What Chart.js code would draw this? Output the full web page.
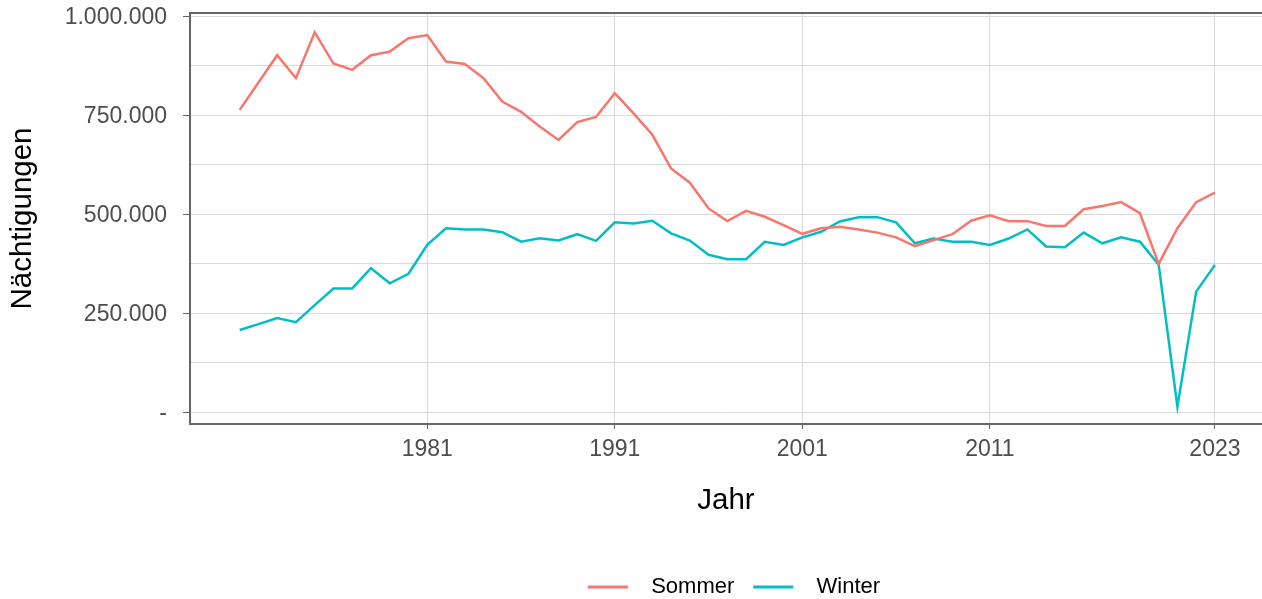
<!DOCTYPE html>
<html>
<head>
<meta charset="utf-8">
<script src="https://cdn.jsdelivr.net/npm/chart.js@4"></script>
<style>
  html, body { margin: 0; padding: 0; overflow: hidden; background: #fff; }
  #wrap { position: relative; width: 1262px; height: 608px; }
</style>
</head>
<body>
<div id="wrap"><canvas id="chart"></canvas></div>
<script>
const years = [1971, 1972, 1973, 1974, 1975, 1976, 1977, 1978, 1979, 1980,
  1981, 1982, 1983, 1984, 1985, 1986, 1987, 1988, 1989, 1990,
  1991, 1992, 1993, 1994, 1995, 1996, 1997, 1998, 1999, 2000,
  2001, 2002, 2003, 2004, 2005, 2006, 2007, 2008, 2009, 2010,
  2011, 2012, 2013, 2014, 2015, 2016, 2017, 2018, 2019, 2020,
  2021, 2022, 2023];

const sommer = [763000, 832000, 901000, 843000, 959000, 880000, 864000, 901000, 910000, 944000,
  952000, 885000, 879000, 843000, 784000, 758000, 721000, 687000, 732000, 745000,
  805000, 754000, 700000, 615000, 579000, 514000, 482000, 508000, 493000, 472000,
  450000, 464000, 468000, 461000, 453000, 441000, 419000, 434000, 449000, 483000,
  497000, 482000, 482000, 470000, 470000, 512000, 520000, 530000, 502000, 374000,
  464000, 530000, 554000];

const winter = [207000, 222000, 237000, 227000, 270000, 312000, 312000, 363000, 325000, 349000,
  422000, 464000, 461000, 461000, 454000, 430000, 439000, 433000, 449000, 432000,
  479000, 476000, 483000, 451000, 433000, 397000, 386000, 386000, 430000, 422000,
  441000, 455000, 481000, 492000, 492000, 479000, 426000, 438000, 430000, 430000,
  422000, 438000, 461000, 418000, 416000, 453000, 426000, 441000, 430000, 372000,
  13500, 304000, 371000];

const xTicks = [1981, 1991, 2001, 2011, 2023];
const yTicks = [0, 250000, 500000, 750000, 1000000];
const yLabels = ['-', '250.000', '500.000', '750.000', '1.000.000'];
const yMinor = [125000, 375000, 625000, 875000];

const FONT = "'Liberation Sans', Arial, sans-serif";
const gridColor = '#dadada';
const axisColor = '#666666';
const tickText = '#4d4d4d';

const toPoints = (vals) => vals.map((v, i) => ({ x: years[i], y: v }));

// ggplot style top frame line
const topFrame = {
  id: 'topFrame',
  afterDraw(chart) {
    const { ctx, chartArea } = chart;
    ctx.save();
    ctx.strokeStyle = axisColor;
    ctx.lineWidth = 2;
    ctx.beginPath();
    ctx.moveTo(chartArea.left - 1, chartArea.top);
    ctx.lineTo(chartArea.right, chartArea.top);
    ctx.stroke();
    ctx.restore();
  }
};

// legend sits a bit right of the panel centre in the original
const legendShift = {
  id: 'legendShift',
  afterLayout(chart) {
    chart.legend.left += 8;
    chart.legend.right += 8;
  }
};

new Chart(document.getElementById('chart'), {
  type: 'line',
  data: {
    datasets: [
      {
        label: 'Sommer',
        data: toPoints(sommer),
        borderColor: '#F8766D',
        backgroundColor: '#F8766D',
        borderWidth: 2.5,
        pointRadius: 0,
        tension: 0,
      },
      {
        label: 'Winter',
        data: toPoints(winter),
        borderColor: '#00BFC4',
        backgroundColor: '#00BFC4',
        borderWidth: 2.5,
        pointRadius: 0,
        tension: 0,
      },
    ],
  },
  options: {
    responsive: true,
    maintainAspectRatio: false,
    animation: false,
    layout: { padding: { top: 13, left: 0, right: 0, bottom: 0 } },
    plugins: {
      tooltip: { enabled: false },
      legend: {
        position: 'bottom',
        fullSize: false,
        labels: {
          color: '#000',
          font: { family: FONT, size: 22 },
          boxWidth: 40,
          boxHeight: 3,
          padding: 19,
          generateLabels: (chart) =>
            Chart.defaults.plugins.legend.labels.generateLabels(chart).map((l) => ({
              ...l,
              lineWidth: 0,
              text: '  ' + l.text,
            })),
        },
      },
    },
    scales: {
      x: {
        type: 'linear',
        min: 1968.35,
        max: 2025.51,
        afterBuildTicks: (s) => { s.ticks = xTicks.map((v) => ({ value: v })); },
        afterFit: (s) => { s.height = 133; s.paddingLeft = 0; s.paddingRight = 0; },
        ticks: {
          autoSkip: false,
          maxRotation: 0,
          color: tickText,
          font: { family: FONT, size: 23 },
          padding: 7,
          callback: (v) => String(v),
        },
        grid: { color: gridColor, lineWidth: 1, tickColor: axisColor, tickLength: 5 },
        border: { display: true, color: axisColor, width: 2 },
        title: {
          display: true,
          text: 'Jahr',
          color: '#000',
          font: { family: FONT, size: 29.5 },
          padding: { top: 0, bottom: 38.3 },
        },
      },
      y: {
        min: -30303,
        max: 1007576,
        afterBuildTicks: (s) => {
          s.ticks = yTicks.concat(yMinor).sort((a, b) => a - b).map((v) => ({ value: v }));
        },
        afterFit: (s) => { s.width = 190; s.paddingTop = 0; s.paddingBottom = 0; },
        ticks: {
          autoSkip: false,
          color: tickText,
          font: { family: FONT, size: 23 },
          padding: 16,
          labelOffset: 2,
          callback: (v) => {
            const i = yTicks.indexOf(v);
            return i >= 0 ? yLabels[i] : '';
          },
        },
        grid: {
          color: gridColor,
          lineWidth: 1,
          tickLength: 7,
          tickColor: (c) => (c.tick && yTicks.includes(c.tick.value) ? axisColor : 'rgba(0,0,0,0)'),
        },
        border: { display: true, color: axisColor, width: 2 },
        title: {
          display: true,
          text: 'Nächtigungen',
          color: '#000',
          font: { family: FONT, size: 29.5 },
          padding: { top: 5.3, bottom: 0 },
        },
      },
    },
  },
  plugins: [topFrame, legendShift],
});
</script>
</body>
</html>
